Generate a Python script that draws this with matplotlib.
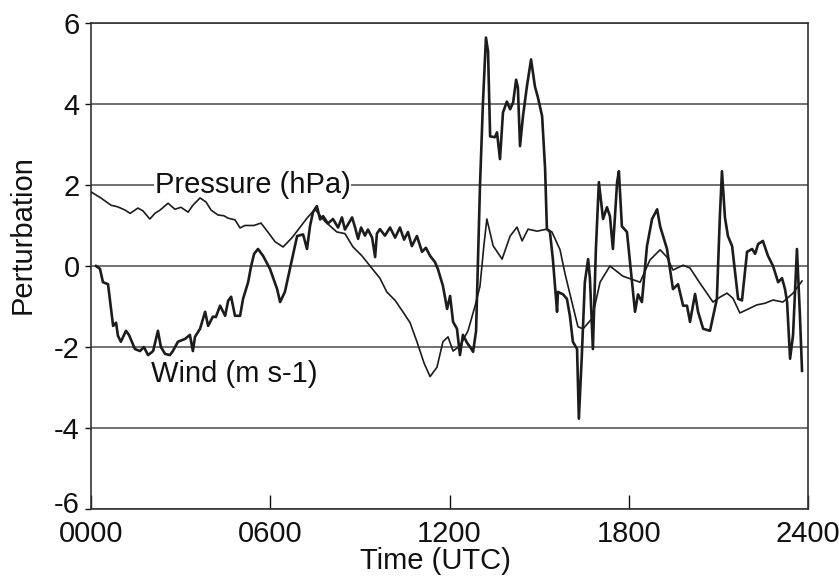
import matplotlib
matplotlib.use("Agg")
import matplotlib.pyplot as plt
import matplotlib.transforms as mtransforms

plt.rcParams['font.family'] = ['Liberation Sans', 'DejaVu Sans']
plt.rcParams['axes.unicode_minus'] = False

# ---- data (hours UTC, perturbation) ----
pressure_t = [0.0, 0.33, 0.67, 0.9, 1.14, 1.31, 1.57, 1.74, 1.97, 2.14, 2.31, 2.58, 2.81,
              3.01, 3.25, 3.41, 3.65, 3.85, 4.02, 4.25, 4.45, 4.59, 4.82, 4.99, 5.15, 5.45,
              5.69, 5.92, 6.16, 6.43, 6.73, 7.0, 7.25, 7.5, 7.83, 8.23, 8.5, 8.77, 9.07,
              9.34, 9.67, 9.9, 10.18, 10.44, 10.68, 10.91, 11.15, 11.35, 11.58, 11.78,
              11.95, 12.12, 12.35, 12.62, 12.85, 13.02, 13.15, 13.25, 13.46, 13.76, 14.03,
              14.26, 14.43, 14.63, 14.93, 15.26, 15.43, 15.7, 15.87, 16.1, 16.3, 16.47,
              16.77, 17.04, 17.37, 17.8, 18.38, 18.71, 19.05, 19.28, 19.48, 19.82, 20.05,
              20.38, 20.82, 21.05, 21.29, 21.49, 21.72, 22.29, 22.56, 22.83, 23.16, 23.5, 23.8]
pressure_v = [1.83, 1.68, 1.5, 1.46, 1.38, 1.3, 1.43, 1.36, 1.16, 1.3, 1.38, 1.55, 1.4,
              1.45, 1.33, 1.5, 1.68, 1.58, 1.38, 1.26, 1.24, 1.18, 1.14, 0.94, 1.0, 1.0,
              1.06, 0.84, 0.6, 0.47, 0.7, 0.96, 1.2, 1.4, 1.1, 0.84, 0.8, 0.47, 0.25,
              0.0, -0.3, -0.64, -0.85, -1.13, -1.4, -1.87, -2.4, -2.73, -2.5, -1.87,
              -1.75, -2.1, -1.97, -1.6, -1.0, -0.5, 0.5, 1.16, 0.5, 0.17, 0.74,
              0.96, 0.62, 0.91, 0.86, 0.91, 0.84, 0.4, -0.2, -0.9, -1.5, -1.55,
              -1.3, -0.4, 0.0, -0.25, -0.4, 0.15, 0.4, 0.22, -0.1, 0.02, -0.05,
              -0.42, -0.89, -0.77, -0.67, -0.8, -1.16, -0.96, -0.92, -0.84, -0.89, -0.67, -0.37]

wind_t = [0.17, 0.30, 0.40, 0.57, 0.67, 0.74, 0.84, 0.90, 1.00, 1.17, 1.27, 1.47, 1.64,
          1.77, 1.91, 2.08, 2.24, 2.34, 2.48, 2.64, 2.74, 2.91, 3.15, 3.31, 3.41, 3.48,
          3.65, 3.82, 3.92, 4.08, 4.18, 4.32, 4.49, 4.59, 4.69, 4.82, 4.99, 5.09, 5.26,
          5.36, 5.46, 5.59, 5.76, 5.99, 6.23, 6.33, 6.49, 6.59, 6.73, 6.90, 7.10, 7.23,
          7.33, 7.43, 7.56, 7.67, 7.77, 7.93, 8.10, 8.27, 8.40, 8.50, 8.74, 8.84, 8.94,
          9.04, 9.17, 9.27, 9.41, 9.51, 9.57, 9.67, 9.84, 10.01, 10.18, 10.34, 10.48,
          10.61, 10.74, 10.91, 11.08, 11.21, 11.35, 11.51, 11.61, 11.78, 11.92, 12.02,
          12.12, 12.25, 12.35, 12.45, 12.59, 12.69, 12.79, 12.89, 13.02, 13.12, 13.22,
          13.29, 13.36, 13.52, 13.59, 13.69, 13.79, 13.92, 14.03, 14.13, 14.23, 14.29,
          14.36, 14.46, 14.59, 14.73, 14.86, 14.96, 15.10, 15.20, 15.26, 15.36, 15.46,
          15.60, 15.63, 15.80, 15.93, 16.03, 16.13, 16.27, 16.33, 16.43, 16.53, 16.64,
          16.70, 16.80, 16.90, 17.00, 17.14, 17.27, 17.37, 17.47, 17.61, 17.67, 17.77,
          17.94, 18.11, 18.21, 18.31, 18.44, 18.61, 18.78, 18.95, 19.05, 19.28, 19.48,
          19.65, 19.82, 19.95, 20.05, 20.22, 20.32, 20.49, 20.72, 20.95, 21.05, 21.12,
          21.22, 21.32, 21.46, 21.66, 21.79, 21.96, 22.13, 22.23, 22.33, 22.49, 22.66,
          22.83, 23.00, 23.13, 23.23, 23.30, 23.40, 23.50, 23.63, 23.73, 23.80]
wind_v = [0.0, -0.07, -0.4, -0.45, -1.06, -1.48, -1.4, -1.72, -1.87, -1.6, -1.7, -2.05, -2.1,
          -2.0, -2.2, -2.1, -1.6, -2.0, -2.17, -2.2, -2.1, -1.87, -1.8, -1.7, -2.1, -1.75,
          -1.55, -1.13, -1.48, -1.25, -1.26, -0.98, -1.23, -0.86, -0.76, -1.23, -1.23, -0.81, -0.4,
          0.0, 0.3, 0.42, 0.25, -0.07, -0.57, -0.89, -0.64, -0.3, 0.17, 0.74, 0.78, 0.42,
          0.98, 1.33, 1.48, 1.15, 1.23, 1.05, 1.16, 0.95, 1.2, 0.9, 1.2, 0.95, 0.67,
          0.95, 0.75, 0.9, 0.7, 0.22, 0.8, 0.91, 0.75, 0.95, 0.7, 0.95, 0.65,
          0.84, 0.49, 0.74, 0.35, 0.45, 0.25, 0.1, -0.07, -0.49, -1.06, -0.74,
          -1.38, -1.55, -2.2, -1.7, -1.9, -2.0, -2.12, -1.6, 1.97, 4.04, 5.64,
          5.3, 3.2, 3.18, 3.3, 2.64, 3.79, 4.06, 3.87, 4.04, 4.6, 4.4,
          2.96, 3.7, 4.43, 5.1, 4.43, 4.16, 3.7, 2.4, 0.91, 0.85, 0.17,
          -1.13, -0.64, -0.7, -0.81, -1.23, -1.87, -2.05, -3.77, -2.2, -0.4, 0.17,
          -0.3, -2.05, 0.42, 2.07, 1.16, 1.45, 1.23, 0.42, 2.07, 2.34, 0.98,
          0.84, -0.4, -1.13, -0.7, -0.89, 0.49, 1.16, 1.4, 0.98, 0.42, -0.57,
          -0.45, -0.98, -0.98, -1.38, -0.69, -1.13, -1.55, -1.6, -0.81, 1.23, 2.34,
          1.2, 0.74, 0.49, -0.81, -0.85, 0.35, 0.42, 0.3, 0.54, 0.62, 0.25,
          0.0, -0.4, -0.3, -0.57, -0.89, -2.29, -1.7, 0.42, -1.23, -2.59]

x_ticks = [0, 6, 12, 18, 24]
x_labels = ["0000", "0600", "1200", "1800", "2400"]
y_ticks = [-6, -4, -2, 0, 2, 4, 6]

# ---- figure ----
fig = plt.figure(figsize=(8.39, 5.80), dpi=100)
ax = fig.add_axes([91/839, 1 - 509/580, 717/839, 486/580])

ax.set_xlim(0, 24)
ax.set_ylim(-6, 6)
for yv in y_ticks:
    ax.axhline(yv, color='#4a4a4a', lw=1.1, zorder=1)

line_col = '#1c1c1c'
ax.plot(pressure_t, pressure_v, color=line_col, lw=1.2, zorder=3)
ax.plot(wind_t, wind_v, color=line_col, lw=1.9, zorder=4)

ax.text(2.14, 1.80, "Pressure (hPa)", fontsize=21, color='#111111', va='baseline', ha='left',
        zorder=2, bbox=dict(facecolor='white', edgecolor='none', pad=0.5))
ax.text(2.0, -2.86, "Wind (m s-1)", fontsize=21, color='#111111', va='baseline', ha='left',
        zorder=2)

ax.set_xticks(x_ticks)
ax.set_xticklabels(x_labels)
ax.set_yticks(y_ticks)
ax.tick_params(axis='x', direction='in', length=10, width=1, pad=8, labelsize=21, colors='#111111')
ax.tick_params(axis='y', direction='out', length=4, width=1, pad=4, labelsize=21, colors='#111111')
for s in ax.spines.values():
    s.set_color('#333333')
    s.set_linewidth(1.2)

# the lowest y label sits slightly raised above its tick, as in the original
low_lab = ax.get_yticklabels()[0]
low_lab.set_transform(low_lab.get_transform() +
                      mtransforms.ScaledTranslation(0, 7/100, fig.dpi_scale_trans))

ax.set_xlabel("Time (UTC)", fontsize=21, color='#111111')
ax.xaxis.set_label_coords(0.481, -0.078)
ax.set_ylabel("Perturbation", fontsize=21, color='#111111')
ax.yaxis.set_label_coords(-0.076, 0.564)

fig.savefig("out.png", dpi=100, facecolor='white')
